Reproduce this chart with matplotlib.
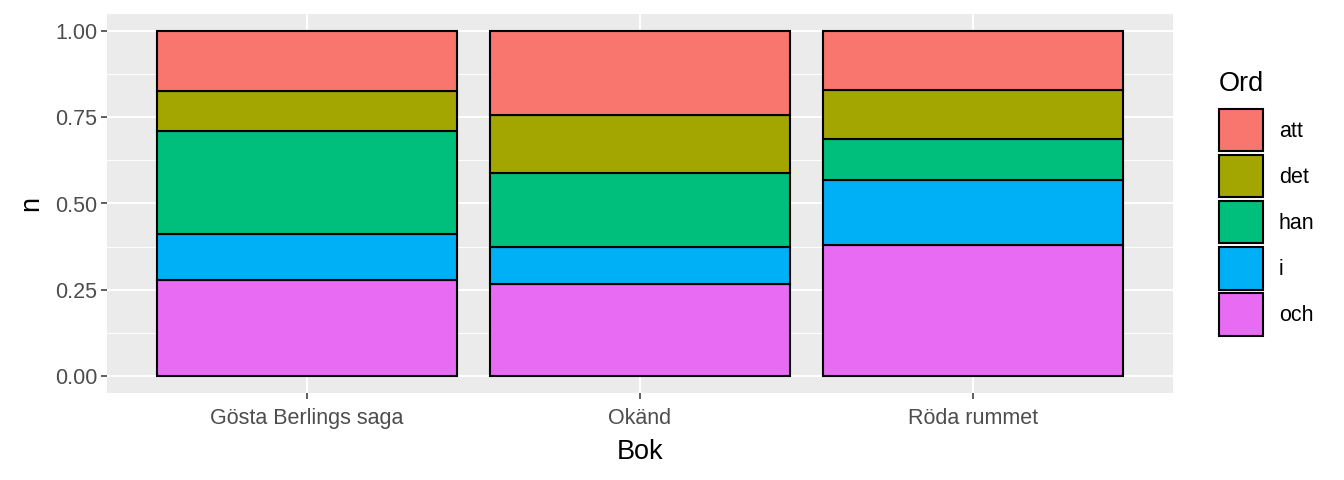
import numpy as np
import matplotlib
matplotlib.use("Agg")
import matplotlib.pyplot as plt
from matplotlib.patches import Patch

plt.rcParams["font.family"] = ["Liberation Sans", "DejaVu Sans"]

books = ["Gösta Berlings saga", "Okänd", "Röda rummet"]
words = ["att", "det", "han", "i", "och"]
colors = ["#F8766D", "#A3A500", "#00BF7D", "#00B0F6", "#E76BF3"]
# share of each word per book (stack order bottom -> top: och, i, han, det, att)
och = [0.279, 0.267, 0.380]
i_ = [0.133, 0.106, 0.189]
han = [0.299, 0.215, 0.119]
det = [0.115, 0.168, 0.141]
att = [0.174, 0.244, 0.171]

series = {"att": att, "det": det, "han": han, "i": i_, "och": och}
col = dict(zip(words, colors))

fig = plt.figure(figsize=(13.44, 4.8), dpi=100)
ax = fig.add_axes([107 / 1344, 1 - 393 / 480, (1173 - 107) / 1344, (393 - 14) / 480])
ax.set_facecolor("#EBEBEB")

x = np.arange(1, len(books) + 1)
bottom = np.zeros(len(books))
for w in ["och", "i", "han", "det", "att"]:
    v = np.array(series[w])
    ax.bar(x, v, width=0.9, bottom=bottom, color=col[w], edgecolor="black", linewidth=1.5, zorder=3)
    bottom += v

ax.set_xlim(0.4, 3.6)
ax.set_ylim(-0.05, 1.05)
ax.set_xticks(x)
ax.set_xticklabels(books)
ax.set_yticks([0, 0.25, 0.5, 0.75, 1.0])
ax.set_yticklabels(["0.00", "0.25", "0.50", "0.75", "1.00"])
ax.set_yticks([0.125, 0.375, 0.625, 0.875], minor=True)
ax.grid(which="major", color="white", lw=1.4, zorder=0)
ax.grid(which="minor", axis="y", color="white", lw=0.7, zorder=0)
ax.tick_params(which="major", length=4, width=1.1, color="#333333", labelsize=15.5,
               labelcolor="#4D4D4D")
ax.tick_params(axis="x", pad=7)
ax.tick_params(axis="y", pad=3)
ax.tick_params(which="minor", length=0)
for sp in ax.spines.values():
    sp.set_visible(False)
ax.set_axisbelow(True)
ax.set_xlabel("Bok", fontsize=19.5, labelpad=7)
ax.set_ylabel("n", fontsize=19.5, labelpad=8)

handles = [Patch(facecolor=col[w], edgecolor="black", linewidth=1.5) for w in words]
leg = fig.legend(handles, words, title="Ord", loc="upper left", bbox_to_anchor=(1210 / 1344, 1 - 62 / 480),
                 frameon=False, fontsize=15.5, title_fontsize=19.5, handlelength=2.05, handleheight=2.65,
                 labelspacing=0.17, handletextpad=0.75, alignment="left", borderaxespad=0)
leg._legend_box.sep = 9

fig.savefig("out.png", dpi=100)
